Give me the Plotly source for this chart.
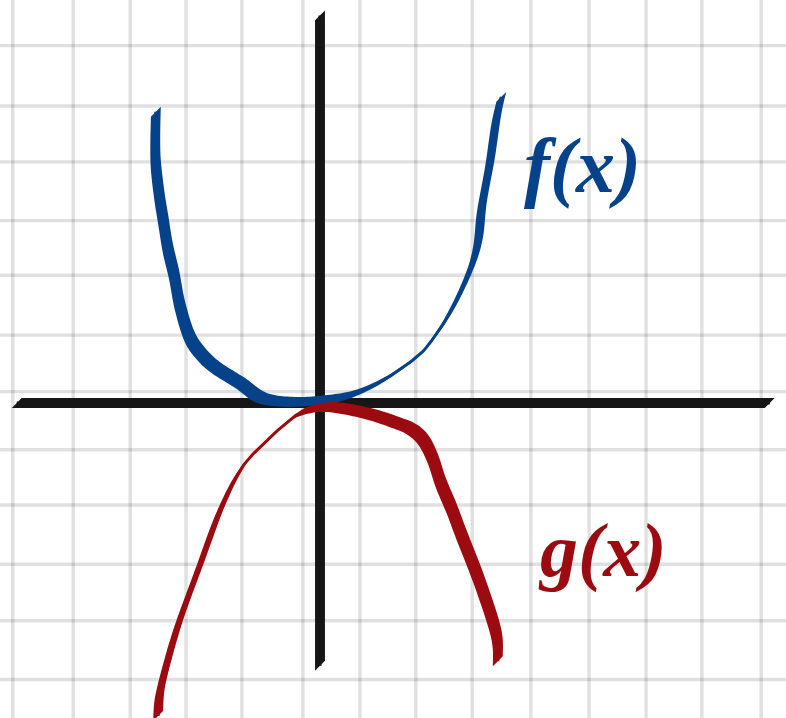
import numpy as np
import plotly.graph_objects as go

# Canvas and scale: one grid unit is about 57 px on both axes
W, H = 786, 718
UNIT = 57.0
X_RANGE = [-320 / UNIT, (W - 320) / UNIT]
Y_RANGE = [(403 - H) / UNIT, 403 / UNIT]

# Hand-ruled grid line positions (not perfectly even)
grid_x = [-5.39, -4.33, -3.33, -2.35, -1.37, -0.30, 0.70, 1.68, 2.67, 3.70, 4.72, 5.72, 6.70, 7.74]
grid_y = [6.27, 5.21, 4.23, 3.20, 2.24, 1.19, 0.20, -0.82, -1.79, -2.83, -3.82, -4.85]

# Extent of the drawn coordinate axes
x_axis_span = [-5.32, 7.89]
y_axis_span = [-4.61, 6.80]

# f(x): the upward-opening curve
f_x = [-2.88, -2.89, -2.88, -2.82, -2.75, -2.67, -2.56, -2.46, -2.30, -2.11, -1.84, -1.40,
       -1.02, -0.53, 0.00, 0.53, 1.11, 1.70, 1.97, 2.30, 2.62, 2.77, 2.84, 2.98, 3.09, 3.18]
f_y = [5.11, 4.61, 4.18, 3.65, 3.21, 2.72, 2.25, 1.72, 1.19, 0.89, 0.63, 0.35,
       0.09, 0.02, 0.05, 0.14, 0.40, 0.81, 1.11, 1.62, 2.30, 2.81, 3.44, 4.21, 4.96, 5.37]

# g(x): the downward-opening curve
g_x = [-2.84, -2.81, -2.67, -2.46, -2.12, -1.75, -1.40, -1.05, -0.53, -0.26, 0.18, 0.82,
       1.35, 1.62, 1.82, 1.98, 2.12, 2.32, 2.47, 2.81, 3.09, 3.12]
g_y = [-5.49, -5.09, -4.51, -3.81, -2.88, -1.88, -1.18, -0.77, -0.30, -0.14, -0.07, -0.18,
       -0.35, -0.47, -0.66, -0.98, -1.40, -1.88, -2.28, -3.16, -4.04, -4.53]

# Label text and anchor points
f_label, f_label_pos = "f(x)", (4.60, 4.16)
g_label, g_label_pos = "g(x)", (4.95, -2.58)

BLUE = "#06428a"
RED = "#9b0b10"
INK = "#161616"
GRID = "rgba(0,0,0,0.12)"
NIB_PX = 14.0      # broad-nib pen width in px, held at 45 degrees
HAIR_PX = 3.0      # minimum hairline width


def catmull_rom(xs, ys, steps=12):
    """Smooth centre line through the given points for a pen-like stroke."""
    P = np.column_stack([xs, ys]).astype(float)
    P = np.vstack([P[0], P, P[-1]])
    out = []
    for i in range(1, len(P) - 2):
        p0, p1, p2, p3 = P[i - 1], P[i], P[i + 1], P[i + 2]
        for t in np.linspace(0, 1, steps, endpoint=False):
            t2, t3 = t * t, t * t * t
            out.append(0.5 * (2 * p1 + (-p0 + p2) * t
                              + (2 * p0 - 5 * p1 + 4 * p2 - p3) * t2
                              + (-p0 + 3 * p1 - 3 * p2 + p3) * t3))
    out.append(P[-2])
    return np.array(out)


def nib_stroke(xs, ys, color, smooth=True):
    """Calligraphic stroke: sweep a slanted nib along the path as filled quads."""
    pts = catmull_rom(xs, ys) if smooth else np.column_stack([xs, ys]).astype(float)
    half = NIB_PX / 2 / UNIT
    nib = np.array([np.cos(np.pi / 4), np.sin(np.pi / 4)]) * half
    qx, qy = [], []
    for a, b in zip(pts[:-1], pts[1:]):
        quad = [a + nib, b + nib, b - nib, a - nib]
        area = 0.0
        for k in range(4):
            p, q = quad[k], quad[(k + 1) % 4]
            area += p[0] * q[1] - q[0] * p[1]
        if area < 0:
            quad = quad[::-1]
        for p in quad:
            qx.append(p[0])
            qy.append(p[1])
        qx.append(None)
        qy.append(None)
    body = go.Scatter(x=qx, y=qy, mode="lines", fill="toself", fillcolor=color,
                      line=dict(width=0, color=color), hoverinfo="skip",
                      showlegend=False, connectgaps=False)
    hair = go.Scatter(x=pts[:, 0], y=pts[:, 1], mode="lines",
                      line=dict(width=HAIR_PX, color=color), hoverinfo="skip",
                      showlegend=False)
    return [body, hair]


fig = go.Figure()

# Graph-paper grid, translucent so crossings come out darker
for gx in grid_x:
    fig.add_shape(type="line", xref="x", yref="paper", x0=gx, x1=gx, y0=0, y1=1,
                  line=dict(color=GRID, width=3.4), layer="below")
for gy in grid_y:
    fig.add_shape(type="line", xref="paper", yref="y", x0=0, x1=1, y0=gy, y1=gy,
                  line=dict(color=GRID, width=3.4), layer="below")

# Coordinate axes drawn with the same pen
for tr in nib_stroke(x_axis_span, [0.0, 0.0], INK, smooth=False):
    fig.add_trace(tr)
for tr in nib_stroke([0.0, 0.0], y_axis_span, INK, smooth=False):
    fig.add_trace(tr)

for tr in nib_stroke(f_x, f_y, BLUE):
    fig.add_trace(tr)
for tr in nib_stroke(g_x, g_y, RED):
    fig.add_trace(tr)

label_font = "Liberation Serif"
fig.add_annotation(x=f_label_pos[0], y=f_label_pos[1], text=f"<b><i>{f_label}</i></b>",
                   showarrow=False, font=dict(family=label_font, size=78, color=BLUE),
                   xanchor="center", yanchor="middle")
fig.add_annotation(x=g_label_pos[0], y=g_label_pos[1], text=f"<b><i>{g_label}</i></b>",
                   showarrow=False, font=dict(family=label_font, size=76, color=RED),
                   xanchor="center", yanchor="middle")

axis_style = dict(showgrid=False, zeroline=False, showline=False, ticks="",
                  showticklabels=False, fixedrange=True)

fig.update_layout(
    width=W, height=H,
    margin=dict(l=0, r=0, t=0, b=0),
    paper_bgcolor="white", plot_bgcolor="white",
    showlegend=False,
    xaxis=dict(range=X_RANGE, **axis_style),
    yaxis=dict(range=Y_RANGE, **axis_style),
)

fig.write_html("out.html", config={"displayModeBar": False})
